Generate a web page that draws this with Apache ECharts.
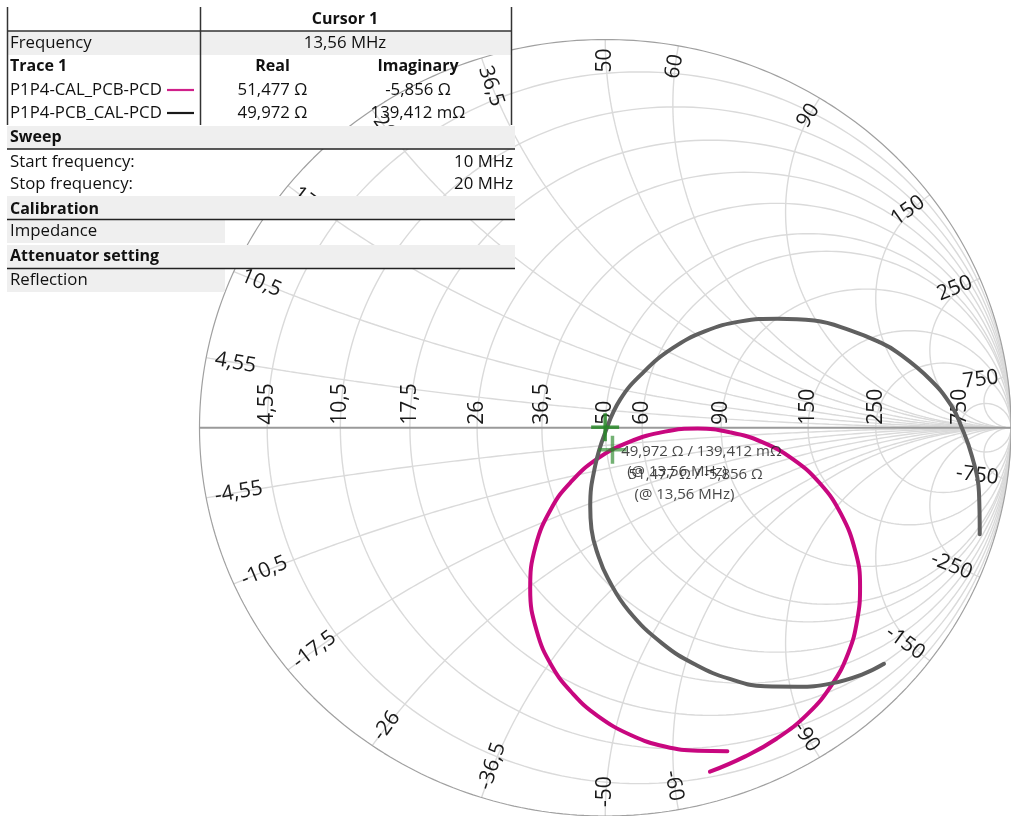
<!DOCTYPE html>
<html>
<head>
<meta charset="utf-8">
<script src="https://cdn.jsdelivr.net/npm/echarts@6/dist/echarts.min.js"></script>
<style>
  html, body { margin: 0; padding: 0; background: #fff; }
  #chart { width: 1011px; height: 816px; }
</style>
</head>
<body>
<div id="chart"></div>
<script>
// Smith chart grid values (ohms, Z0 = 50)
const Z0 = 50;
const resistanceTicks = [4.55, 10.5, 17.5, 26, 36.5, 50, 60, 90, 150, 250, 750];
const reactanceTicks = [4.55, 10.5, 17.5, 26, 36.5, 50, 60, 90, 150, 250, 750];
const tickLabels = ['4,55', '10,5', '17,5', '26', '36,5', '50', '60', '90', '150', '250', '750'];

// Measured S11 (real / imaginary), sweep 10 MHz -> 20 MHz
const calPcbRe = [0.301, 0.228, 0.147, 0.064, -0.019, -0.079, -0.131, -0.169, -0.185, -0.172, -0.132, -0.084, -0.021, 0.058, 0.147, 0.228, 0.308, 0.387, 0.464, 0.529, 0.581, 0.617, 0.628, 0.621, 0.599, 0.559, 0.499, 0.422, 0.344, 0.258];
const calPcbIm = [-0.833, -0.832, -0.821, -0.792, -0.742, -0.686, -0.615, -0.523, -0.415, -0.306, -0.206, -0.139, -0.081, -0.037, -0.010, -0.002, -0.012, -0.037, -0.082, -0.143, -0.222, -0.320, -0.408, -0.495, -0.580, -0.661, -0.737, -0.801, -0.847, -0.886];
const pcbCalRe = [0.687, 0.634, 0.555, 0.474, 0.393, 0.307, 0.224, 0.141, 0.058, 0.007, -0.017, -0.034, -0.037, -0.025, 0.000, 0.037, 0.095, 0.166, 0.245, 0.334, 0.425, 0.515, 0.604, 0.677, 0.719, 0.800, 0.853, 0.878, 0.904, 0.921, 0.923];
const pcbCalIm = [-0.608, -0.635, -0.659, -0.667, -0.666, -0.647, -0.611, -0.556, -0.472, -0.389, -0.330, -0.261, -0.202, -0.099, -0.012, 0.073, 0.144, 0.205, 0.248, 0.274, 0.281, 0.276, 0.251, 0.220, 0.195, 0.125, 0.057, 0.002, -0.074, -0.165, -0.274];

// Cursor readout
const cursorName = 'Cursor 1';
const cursorFreq = '13,56 MHz';
const traceNames = ['P1P4-CAL_PCB-PCD', 'P1P4-PCB_CAL-PCD'];
const cursorReal = [51.477, 49.972];   // ohms
const cursorImag = [-5.856, 0.139412]; // ohms

// Sweep / setup info
const sweepStart = '10 MHz';
const sweepStop = '20 MHz';
const calibrationMode = 'Impedance';
const attenuatorMode = 'Reflection';

const traceColors = ['#c8077f', '#606060'];
const swatchColors = ['#d0208a', '#1a1a1a'];
const FONT = '"Open Sans", "Noto Sans", sans-serif';

function gammaOf(r, x) {
  const den = (r + 1) * (r + 1) + x * x;
  return [(r * r + x * x - 1) / den, (2 * x) / den];
}

function fmtNum(v) {
  return v.toFixed(3).replace('.', ',');
}
function fmtOhm(v) {
  if (Math.abs(v) < 1) return fmtNum(v * 1000) + ' mΩ';
  return fmtNum(v) + ' Ω';
}

// ---- grid curves ----
const series = [];
function curveSeries(pts, color, width, z) {
  series.push({
    type: 'line', data: pts, showSymbol: false, silent: true, z: z,
    animation: false, lineStyle: { color: color, width: width }, clip: false
  });
}

resistanceTicks.forEach(function (R) {
  const r = R / Z0, c = r / (1 + r), rad = 1 / (1 + r), pts = [];
  for (let i = 0; i <= 240; i++) {
    const t = i / 240 * Math.PI * 2;
    pts.push([c + rad * Math.cos(t), rad * Math.sin(t)]);
  }
  curveSeries(pts, '#dadada', 1.4, 1);
});

reactanceTicks.forEach(function (X) {
  [1, -1].forEach(function (s) {
    const x = s * X / Z0, cy = 1 / x, rad = 1 / Math.abs(x);
    const e = gammaOf(0, x);
    // sweep the arc from the rim point to the open-circuit point
    let a0 = Math.atan2((e[1] - cy) * s, e[0] - 1);
    if (a0 < 0) a0 += Math.PI * 2;
    const a1 = Math.PI * 1.5, pts = [];
    for (let i = 0; i <= 200; i++) {
      const a = a0 + (a1 - a0) * i / 200;
      pts.push([1 + rad * Math.cos(a), cy + s * rad * Math.sin(a)]);
    }
    curveSeries(pts, '#dadada', 1.4, 1);
  });
});

// outer rim and real axis
(function () {
  const pts = [];
  for (let i = 0; i <= 360; i++) {
    const t = i / 360 * Math.PI * 2;
    pts.push([Math.cos(t), Math.sin(t)]);
  }
  curveSeries(pts, '#a0a0a0', 1.2, 2);
  curveSeries([[-1, 0], [1, 0]], '#9a9a9a', 2.2, 2);
})();

// ---- grid labels ----
const labelData = [], labelText = [];
resistanceTicks.forEach(function (R, i) {
  const r = R / Z0;
  labelData.push([(r - 1) / (r + 1), 0, 0]);
  labelText.push(tickLabels[i]);
});
reactanceTicks.forEach(function (X, i) {
  [1, -1].forEach(function (s) {
    const e = gammaOf(0, s * X / Z0);
    labelData.push([e[0], e[1], 1]);
    labelText.push((s < 0 ? '-' : '') + tickLabels[i]);
  });
});

series.push({
  type: 'custom', z: 3, silent: true, animation: false, clip: false,
  data: labelData,
  renderItem: function (params, api) {
    const p = api.coord([api.value(0), api.value(1)]);
    const c = api.coord([0, 0]);
    const txt = labelText[params.dataIndex];
    const st = { text: txt, font: '21px ' + FONT, fill: '#1a1a1a', verticalAlign: 'middle', textVerticalAlign: 'middle' };
    if (api.value(2) === 0) {
      st.align = 'left'; st.textAlign = 'left';
      return { type: 'text', x: p[0], y: p[1] - 3, rotation: Math.PI / 2, style: st };
    }
    let dx = p[0] - c[0], dy = p[1] - c[1];
    const L = Math.hypot(dx, dy); dx /= L; dy /= L;
    let ang = Math.atan2(-dy, dx);
    let align = 'right';
    if (!(ang > -Math.PI / 2 + 1e-6 && ang <= Math.PI / 2 + 1e-6)) {
      ang = ang > 0 ? ang - Math.PI : ang + Math.PI;
      align = 'left';
    }
    st.align = align; st.textAlign = align;
    const gap = 9;
    return { type: 'text', x: p[0] - dx * gap, y: p[1] - dy * gap, rotation: ang, style: st };
  }
});

// ---- traces ----
function zipPts(re, im) { return re.map(function (v, i) { return [v, im[i]]; }); }
series.push({
  type: 'line', name: traceNames[0], data: zipPts(calPcbRe, calPcbIm), smooth: 0.45,
  showSymbol: false, z: 4, animation: false, clip: false,
  lineStyle: { color: traceColors[0], width: 4, cap: 'round' }
});
series.push({
  type: 'line', name: traceNames[1], data: zipPts(pcbCalRe, pcbCalIm), smooth: 0.45,
  showSymbol: false, z: 4, animation: false, clip: false,
  lineStyle: { color: traceColors[1], width: 4, cap: 'round' }
});

// ---- cursor markers and readouts ----
const cursorPts = cursorReal.map(function (R, i) {
  const g = gammaOf(R / Z0, cursorImag[i] / Z0);
  return [g[0], g[1]];
});
const markerAlpha = [0.65, 0.85];
series.push({
  type: 'custom', z: 5, silent: true, animation: false, clip: false,
  data: cursorPts,
  renderItem: function (params, api) {
    const p = api.coord([api.value(0), api.value(1)]);
    const i = params.dataIndex, h = 14, w = 3.5;
    const fill = 'rgba(40,135,40,' + markerAlpha[i] + ')';
    return {
      type: 'group', children: [
        { type: 'rect', shape: { x: p[0] - h, y: p[1] - w / 2, width: 2 * h, height: w }, style: { fill: fill } },
        { type: 'rect', shape: { x: p[0] - w / 2, y: p[1] - h, width: w, height: 2 * h }, style: { fill: fill } }
      ]
    };
  }
});
series.push({
  type: 'custom', z: 6, silent: true, animation: false, clip: false,
  data: cursorPts,
  renderItem: function (params, api) {
    const p = api.coord([api.value(0), api.value(1)]);
    const i = params.dataIndex;
    const line1 = fmtOhm(cursorReal[i]) + ' / ' + fmtOhm(cursorImag[i]);
    const line2 = '(@ ' + cursorFreq + ')';
    const st = { font: '15px ' + FONT, fill: 'rgba(40,40,40,0.85)', align: 'left', textAlign: 'left', verticalAlign: 'middle', textVerticalAlign: 'middle' };
    return {
      type: 'group', children: [
        { type: 'text', x: p[0] + 16, y: p[1] + 25, style: Object.assign({ text: line1 }, st) },
        { type: 'text', x: p[0] + 22, y: p[1] + 45, style: Object.assign({ text: line2 }, st) }
      ]
    };
  }
});

// ---- info table ----
const G = [];
function gRect(x, y, w, h, fill) {
  G.push({ type: 'rect', z: 100, silent: true, shape: { x: x, y: y, width: w, height: h }, style: { fill: fill } });
}
function gLine(x1, y1, x2, y2, stroke, lw) {
  G.push({ type: 'line', z: 101, silent: true, shape: { x1: x1, y1: y1, x2: x2, y2: y2 }, style: { stroke: stroke, lineWidth: lw } });
}
function gText(t, x, y, align, bold) {
  G.push({
    type: 'text', z: 102, silent: true, x: x, y: y,
    style: { text: t, font: (bold ? 'bold 16px ' : '16.8px ') + FONT, fill: '#111', align: align, textAlign: align, verticalAlign: 'middle', textVerticalAlign: 'middle' }
  });
}
const BG = '#efefef';
gRect(7, 7, 505, 24, '#ffffff');
gRect(7, 31, 505, 24, BG);
gLine(7, 31, 512, 31, '#333', 1.5);
[7.5, 200.5, 511.5].forEach(function (x) { gLine(x, 7, x, 125, '#333', 1.5); });
gText(cursorName, 345, 19, 'center', true);
gText('Frequency', 10, 43, 'left', false);
gText(cursorFreq, 345, 43, 'center', false);
gText('Trace 1', 10, 66.5, 'left', true);
gText('Real', 272.5, 66.5, 'center', true);
gText('Imaginary', 418, 66.5, 'center', true);
[90, 113].forEach(function (y, i) {
  gText(traceNames[i], 10, y, 'left', false);
  gLine(167, y, 194, y, swatchColors[i], 2.2);
  gText(fmtOhm(cursorReal[i]), 272.5, y, 'center', false);
  gText(fmtOhm(cursorImag[i]), 418, y, 'center', false);
});
gRect(7, 126, 508, 23, BG);
gLine(7, 149, 515, 149, '#222', 1.5);
gText('Sweep', 10, 137, 'left', true);
gText('Start frequency:', 10, 162, 'left', false);
gText(sweepStart, 513, 162, 'right', false);
gText('Stop frequency:', 10, 184.5, 'left', false);
gText(sweepStop, 513, 184.5, 'right', false);
gRect(7, 196, 508, 23, BG);
gLine(7, 219.5, 515, 219.5, '#222', 1.5);
gText('Calibration', 10, 209.5, 'left', true);
gRect(7, 220, 218, 23, BG);
gText(calibrationMode, 10, 231.5, 'left', false);
gRect(7, 245, 508, 23, BG);
gLine(7, 268.5, 515, 268.5, '#222', 1.5);
gText('Attenuator setting', 10, 256, 'left', true);
gRect(7, 269, 218, 23, BG);
gText(attenuatorMode, 10, 280, 'left', false);

const chart = echarts.init(document.getElementById('chart'), null, { renderer: 'canvas' });
chart.setOption({
  animation: false,
  backgroundColor: '#ffffff',
  grid: { left: 199.5, top: 39.5, width: 815, height: 778, containLabel: false },
  xAxis: { type: 'value', min: -1, max: 1, show: false },
  yAxis: { type: 'value', min: -1, max: 1, show: false },
  series: series,
  graphic: { elements: G }
});
</script>
</body>
</html>
